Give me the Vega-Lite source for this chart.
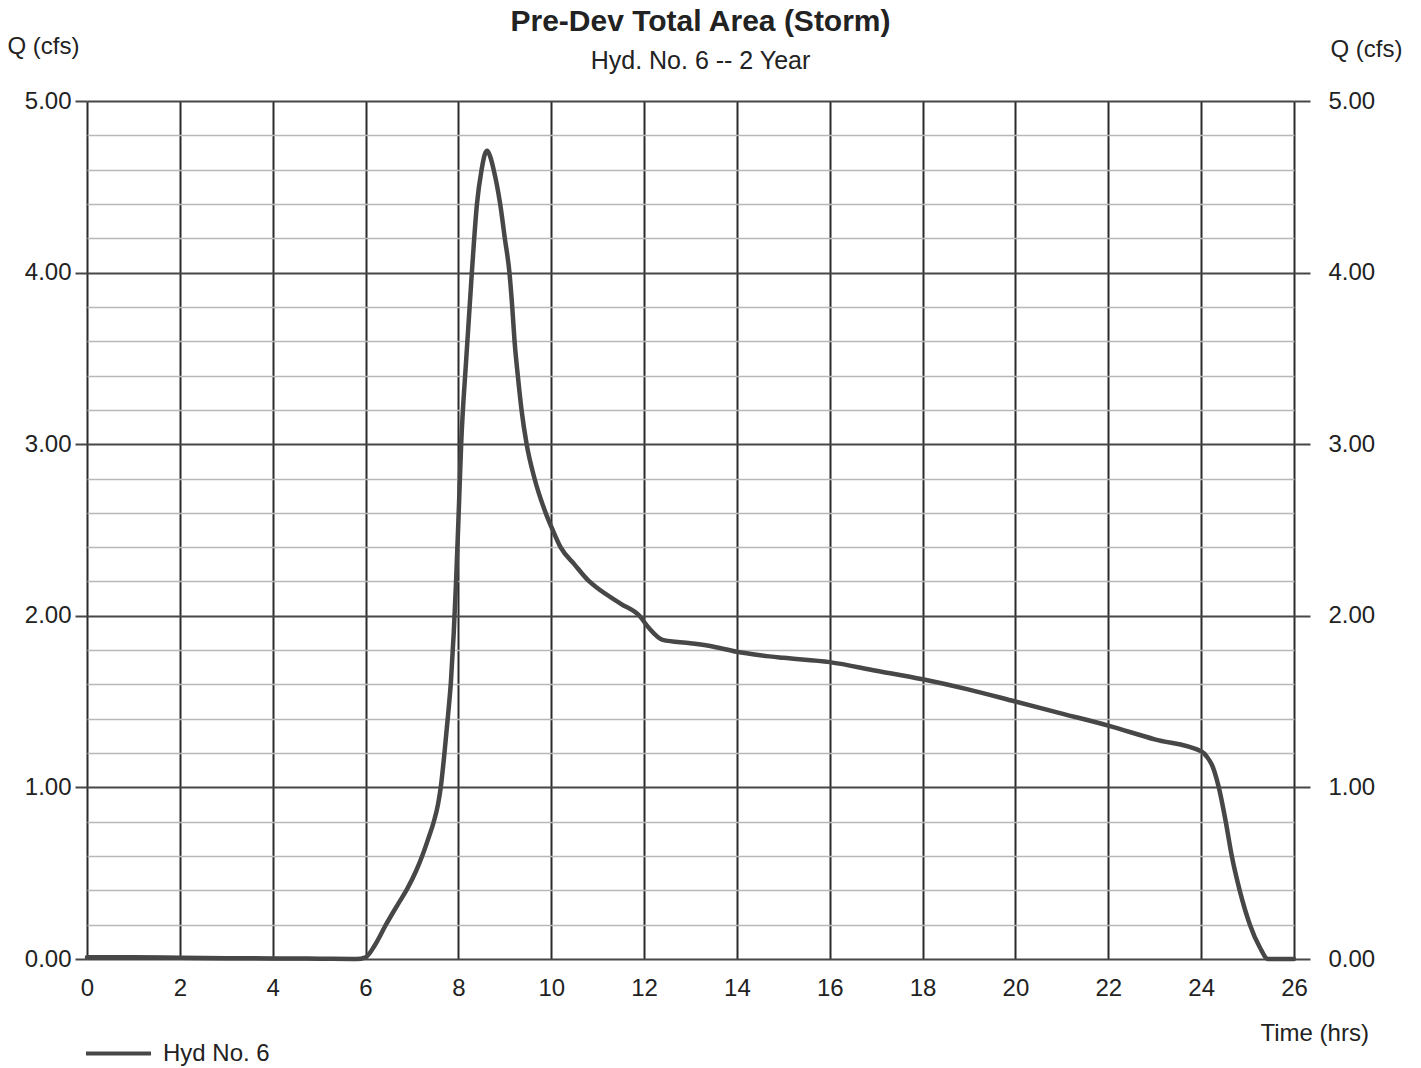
{
  "$schema": "https://vega.github.io/schema/vega-lite/v6.json",
  "width": 1207,
  "height": 858,
  "autosize": {"type": "none"},
  "padding": {"left": 87, "top": 101, "right": 127, "bottom": 109},
  "background": "white",
  "config": {
    "view": {"stroke": null},
    "font": "Liberation Sans",
    "axis": {"labelFont": "Liberation Sans", "titleFont": "Liberation Sans", "labelColor": "#222", "titleColor": "#222", "domain": false}
  },
  "title": {
    "text": "Pre-Dev Total Area (Storm)",
    "subtitle": "Hyd. No. 6 -- 2 Year",
    "fontSize": 30,
    "fontWeight": "bold",
    "font": "Liberation Sans",
    "color": "#222",
    "subtitleFontSize": 25,
    "subtitleFont": "Liberation Sans",
    "subtitleColor": "#222",
    "subtitlePadding": 12,
    "anchor": "middle",
    "dx": 10,
    "offset": -40
  },
  "data": {
    "values": [
      {"t": 0, "q": 0.01, "series": "Hyd No. 6"},
      {"t": 0.5, "q": 0.01, "series": "Hyd No. 6"},
      {"t": 1, "q": 0.01, "series": "Hyd No. 6"},
      {"t": 2, "q": 0.008, "series": "Hyd No. 6"},
      {"t": 3, "q": 0.005, "series": "Hyd No. 6"},
      {"t": 4, "q": 0.003, "series": "Hyd No. 6"},
      {"t": 5, "q": 0.002, "series": "Hyd No. 6"},
      {"t": 5.8, "q": 0.0, "series": "Hyd No. 6"},
      {"t": 6.0, "q": 0.01, "series": "Hyd No. 6"},
      {"t": 6.2, "q": 0.08, "series": "Hyd No. 6"},
      {"t": 6.44, "q": 0.2, "series": "Hyd No. 6"},
      {"t": 6.7, "q": 0.32, "series": "Hyd No. 6"},
      {"t": 6.9, "q": 0.41, "series": "Hyd No. 6"},
      {"t": 7.1, "q": 0.52, "series": "Hyd No. 6"},
      {"t": 7.22, "q": 0.6, "series": "Hyd No. 6"},
      {"t": 7.35, "q": 0.7, "series": "Hyd No. 6"},
      {"t": 7.47, "q": 0.8, "series": "Hyd No. 6"},
      {"t": 7.56, "q": 0.9, "series": "Hyd No. 6"},
      {"t": 7.62, "q": 1.0, "series": "Hyd No. 6"},
      {"t": 7.7, "q": 1.2, "series": "Hyd No. 6"},
      {"t": 7.77, "q": 1.4, "series": "Hyd No. 6"},
      {"t": 7.84, "q": 1.62, "series": "Hyd No. 6"},
      {"t": 7.9, "q": 1.9, "series": "Hyd No. 6"},
      {"t": 7.95, "q": 2.2, "series": "Hyd No. 6"},
      {"t": 8.0, "q": 2.55, "series": "Hyd No. 6"},
      {"t": 8.06, "q": 3.0, "series": "Hyd No. 6"},
      {"t": 8.17, "q": 3.5, "series": "Hyd No. 6"},
      {"t": 8.29, "q": 4.0, "series": "Hyd No. 6"},
      {"t": 8.4, "q": 4.4, "series": "Hyd No. 6"},
      {"t": 8.5, "q": 4.6, "series": "Hyd No. 6"},
      {"t": 8.57, "q": 4.69, "series": "Hyd No. 6"},
      {"t": 8.62, "q": 4.71, "series": "Hyd No. 6"},
      {"t": 8.68, "q": 4.68, "series": "Hyd No. 6"},
      {"t": 8.76, "q": 4.6, "series": "Hyd No. 6"},
      {"t": 8.9, "q": 4.4, "series": "Hyd No. 6"},
      {"t": 9.0, "q": 4.2, "series": "Hyd No. 6"},
      {"t": 9.1, "q": 4.0, "series": "Hyd No. 6"},
      {"t": 9.16, "q": 3.8, "series": "Hyd No. 6"},
      {"t": 9.21, "q": 3.6, "series": "Hyd No. 6"},
      {"t": 9.28, "q": 3.4, "series": "Hyd No. 6"},
      {"t": 9.36, "q": 3.2, "series": "Hyd No. 6"},
      {"t": 9.47, "q": 3.0, "series": "Hyd No. 6"},
      {"t": 9.64, "q": 2.8, "series": "Hyd No. 6"},
      {"t": 9.88, "q": 2.6, "series": "Hyd No. 6"},
      {"t": 10.0, "q": 2.52, "series": "Hyd No. 6"},
      {"t": 10.2, "q": 2.4, "series": "Hyd No. 6"},
      {"t": 10.5, "q": 2.3, "series": "Hyd No. 6"},
      {"t": 10.82, "q": 2.2, "series": "Hyd No. 6"},
      {"t": 11.0, "q": 2.16, "series": "Hyd No. 6"},
      {"t": 11.5, "q": 2.07, "series": "Hyd No. 6"},
      {"t": 11.9, "q": 2.0, "series": "Hyd No. 6"},
      {"t": 12.1, "q": 1.93, "series": "Hyd No. 6"},
      {"t": 12.4, "q": 1.86, "series": "Hyd No. 6"},
      {"t": 13.0, "q": 1.84, "series": "Hyd No. 6"},
      {"t": 13.5, "q": 1.82, "series": "Hyd No. 6"},
      {"t": 14.0, "q": 1.79, "series": "Hyd No. 6"},
      {"t": 14.5, "q": 1.77, "series": "Hyd No. 6"},
      {"t": 15, "q": 1.755, "series": "Hyd No. 6"},
      {"t": 16, "q": 1.73, "series": "Hyd No. 6"},
      {"t": 17, "q": 1.68, "series": "Hyd No. 6"},
      {"t": 18, "q": 1.63, "series": "Hyd No. 6"},
      {"t": 19, "q": 1.57, "series": "Hyd No. 6"},
      {"t": 20, "q": 1.5, "series": "Hyd No. 6"},
      {"t": 21, "q": 1.43, "series": "Hyd No. 6"},
      {"t": 22, "q": 1.36, "series": "Hyd No. 6"},
      {"t": 23, "q": 1.28, "series": "Hyd No. 6"},
      {"t": 24, "q": 1.21, "series": "Hyd No. 6"},
      {"t": 24.12, "q": 1.18, "series": "Hyd No. 6"},
      {"t": 24.25, "q": 1.12, "series": "Hyd No. 6"},
      {"t": 24.38, "q": 1.0, "series": "Hyd No. 6"},
      {"t": 24.53, "q": 0.8, "series": "Hyd No. 6"},
      {"t": 24.66, "q": 0.6, "series": "Hyd No. 6"},
      {"t": 24.83, "q": 0.4, "series": "Hyd No. 6"},
      {"t": 25.05, "q": 0.2, "series": "Hyd No. 6"},
      {"t": 25.26, "q": 0.07, "series": "Hyd No. 6"},
      {"t": 25.44, "q": 0.0, "series": "Hyd No. 6"},
      {"t": 26, "q": 0.0, "series": "Hyd No. 6"}
    ]
  },
  "layer": [
    {
      "mark": {"type": "line", "interpolate": "monotone", "strokeWidth": 4.5, "strokeCap": "round", "strokeJoin": "round"},
      "encoding": {
        "x": {
          "field": "t", "type": "quantitative",
          "scale": {"domain": [0, 26], "nice": false, "zero": false},
          "axis": {
            "values": [0, 2, 4, 6, 8, 10, 12, 14, 16, 18, 20, 22, 24, 26],
            "grid": true, "gridColor": "#2b2b2b", "gridWidth": 2, "gridOpacity": 1,
            "ticks": false, "labelPadding": 17, "labelFontSize": 24, "labelFlush": false,
            "title": "Time (hrs)", "titleFontSize": 24, "titleFontWeight": "normal",
            "titleAngle": 0, "titleAlign": "left", "titleBaseline": "middle",
            "titleX": 1173, "titleY": 74
          }
        },
        "y": {
          "field": "q", "type": "quantitative",
          "scale": {"domain": [0, 5], "nice": false, "zero": true},
          "axis": {
            "orient": "left",
            "values": [0, 0.2, 0.4, 0.6, 0.8, 1, 1.2, 1.4, 1.6, 1.8, 2, 2.2, 2.4, 2.6, 2.8, 3, 3.2, 3.4, 3.6, 3.8, 4, 4.2, 4.4, 4.6, 4.8, 5],
            "labelExpr": "abs(datum.value - round(datum.value)) < 0.001 ? format(datum.value, '.2f') : ''",
            "grid": true,
            "gridColor": {"condition": {"test": "abs(datum.value - round(datum.value)) < 0.001", "value": "#474747"}, "value": "#b8b8b8"},
            "gridWidth": {"condition": {"test": "abs(datum.value - round(datum.value)) < 0.001", "value": 2}, "value": 1.3},
            "gridOpacity": 1,
            "ticks": true, "tickSize": 12, "tickWidth": 2, "tickColor": "#474747",
            "tickOpacity": {"condition": {"test": "abs(datum.value - round(datum.value)) < 0.001", "value": 1}, "value": 0},
            "labelPadding": 4, "labelFontSize": 24, "labelFlush": false,
            "title": "Q (cfs)", "titleFontSize": 24, "titleFontWeight": "normal",
            "titleAngle": 0, "titleAlign": "left", "titleBaseline": "middle",
            "titleX": -80, "titleY": -55
          }
        },
        "color": {
          "field": "series", "type": "nominal",
          "scale": {"range": ["#474747"]},
          "legend": {
            "orient": "none", "legendX": -3, "legendY": 918,
            "title": null, "symbolType": "stroke", "symbolSize": 4225, "symbolStrokeWidth": 4,
            "labelFontSize": 24, "labelFont": "Liberation Sans", "labelColor": "#222", "labelOffset": 10
          }
        }
      }
    },
    {
      "mark": {"type": "line", "interpolate": "monotone", "strokeWidth": 4.5, "opacity": 0},
      "encoding": {
        "x": {"field": "t", "type": "quantitative"},
        "y": {
          "field": "q", "type": "quantitative",
          "axis": {
            "orient": "right",
            "values": [0, 1, 2, 3, 4, 5],
            "format": ".2f",
            "grid": false,
            "ticks": true, "tickSize": 16, "tickWidth": 2, "tickColor": "#474747",
            "labelPadding": 18, "labelFontSize": 24, "labelFlush": false,
            "title": "Q (cfs)", "titleFontSize": 24, "titleFontWeight": "normal",
            "titleAngle": 0, "titleAlign": "left", "titleBaseline": "middle",
            "titleX": 36, "titleY": -52
          }
        }
      }
    }
  ],
  "resolve": {"axis": {"y": "independent"}}
}
